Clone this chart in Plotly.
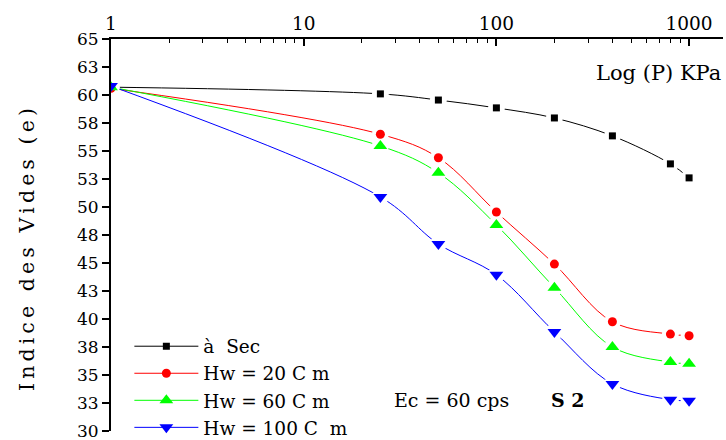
import plotly.graph_objects as go

# Oedometer results: void index vs applied pressure (log scale)
pressure_kpa = [1, 25, 50, 100, 200, 400, 800, 1000]
e_sec = [60.7, 60.1, 59.55, 58.85, 57.95, 56.35, 53.85, 52.6]
e_hw20 = [60.6, 56.5, 54.4, 49.55, 44.9, 39.75, 38.65, 38.5]
e_hw60 = [60.7, 55.45, 53.05, 48.4, 42.8, 37.5, 36.15, 36.0]
e_hw100 = [60.8, 50.9, 46.7, 43.95, 38.85, 34.2, 32.8, 32.7]

series_names = ["à\u00a0\u00a0Sec", "Hw = 20 C m", "Hw = 60 C m", "Hw = 100 C\u00a0\u00a0m"]
series_colors = ["#000000", "#FF0000", "#00FF00", "#0000FF"]
series_symbols = ["square", "circle", "triangle-up", "triangle-down"]
series_sizes = [7, 9, 12, 12]
series_values = [e_sec, e_hw20, e_hw60, e_hw100]

y_tick_vals = [30 + 2.5 * i for i in range(15)]
y_tick_text = ["30", "33", "35", "38", "40", "43", "45", "48", "50",
               "53", "55", "58", "60", "63", "65"]


def spaced(text):
    # letter-spaced axis title
    words = text.split(" ")
    return "\u2009\u00a0\u2009".join("\u2009".join(w) for w in words)


FONT = "DejaVu Serif"

fig = go.Figure()

# smoothed curves
for vals, col in zip(series_values, series_colors):
    fig.add_trace(go.Scatter(x=pressure_kpa, y=vals, mode="lines",
                             line=dict(color=col, width=1, shape="spline", smoothing=1),
                             showlegend=False, hoverinfo="skip"))

# white halos so curves break around the symbols
for vals in series_values:
    fig.add_trace(go.Scatter(x=pressure_kpa, y=vals, mode="markers",
                             marker=dict(symbol="circle", size=17, color="white"),
                             showlegend=False, hoverinfo="skip"))

# symbols
for vals, col, sym, sz in zip(series_values, series_colors, series_symbols, series_sizes):
    fig.add_trace(go.Scatter(x=pressure_kpa, y=vals, mode="markers",
                             marker=dict(symbol=sym, size=sz, color=col),
                             showlegend=False))

# legend entries
for i, (name, col, sym, sz) in enumerate(zip(series_names, series_colors,
                                              series_symbols, series_sizes)):
    fig.add_trace(go.Scatter(x=[None], y=[None], mode="lines+markers", name=name,
                             legendgroup=f"g{i}",
                             line=dict(color=col, width=1),
                             marker=dict(symbol=sym, size=sz, color=col)))

fig.update_layout(
    width=726, height=440,
    margin=dict(l=111, r=3, t=39, b=9, autoexpand=False),
    paper_bgcolor="white", plot_bgcolor="white",
    font=dict(family=FONT, size=18, color="black"),
    xaxis=dict(type="log", side="top", range=[0, 3.176], automargin=False,
               tickvals=[1, 10, 100, 1000], ticktext=["1", "10", "100", "1000"],
               ticks="inside", ticklen=7, tickwidth=1.5, tickcolor="black",
               minor=dict(ticks="inside", ticklen=4, tickwidth=1, tickcolor="black",
                          tickvals=[2, 3, 4, 5, 6, 7, 8, 9, 20, 30, 40, 50, 60, 70, 80, 90,
                                    200, 300, 400, 500, 600, 700, 800, 900]),
               showline=True, linecolor="black", linewidth=2,
               showgrid=False, zeroline=False, tickfont=dict(size=18.5),
               ticklabeloverflow="allow"),
    yaxis=dict(range=[30, 65], tickvals=y_tick_vals, ticktext=y_tick_text,
               automargin=False,
               ticks="outside", ticklen=7, tickwidth=1.5, tickcolor="black",
               showline=True, linecolor="black", linewidth=2,
               showgrid=False, zeroline=False, tickfont=dict(size=17),
               ticklabeloverflow="allow"),
    legend=dict(x=0.03, y=-0.04, xanchor="left", yanchor="bottom",
                bgcolor="rgba(0,0,0,0)", itemwidth=64, tracegroupgap=0,
                traceorder="grouped",
                font=dict(size=18.5, family=FONT)),
    annotations=[
        dict(text=spaced("Indice des Vides (e)"), textangle=-90,
             x=-0.137, y=0.462, xref="paper", yref="paper",
             xanchor="center", yanchor="middle", showarrow=False,
             font=dict(size=20.5)),
        dict(text="Log (P) KPa", x=1.0, y=0.914, xref="paper", yref="paper",
             xanchor="right", yanchor="middle", showarrow=False, font=dict(size=21)),
        dict(text="Ec = 60 cps", x=0.459, y=0.079, xref="paper", yref="paper",
             xanchor="left", yanchor="middle", showarrow=False, font=dict(size=19)),
        dict(text="<b>S 2</b>", x=0.716, y=0.079, xref="paper", yref="paper",
             xanchor="left", yanchor="middle", showarrow=False, font=dict(size=19)),
    ],
)

fig.write_html("out.html")
